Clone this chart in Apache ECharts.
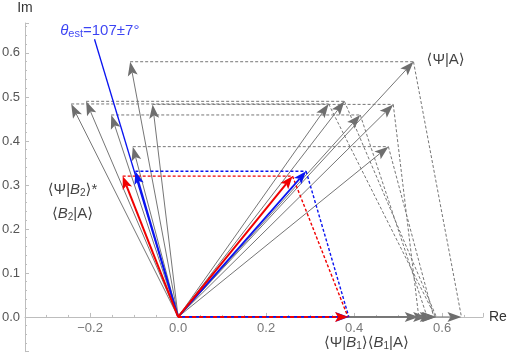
<!DOCTYPE html>
<html>
<head>
<meta charset="utf-8">
<script src="https://cdn.jsdelivr.net/npm/echarts@6/dist/echarts.min.js"></script>
<style>
  html, body { margin: 0; padding: 0; background: #fff; }
  #chart { width: 510px; height: 356px; }
</style>
</head>
<body>
<div id="chart"></div>
<script>
// <Psi|B2>*<B2|A> for each gray run (up-left vectors)
const leftVecs = [
  [-0.243, 0.484], [-0.209, 0.490], [-0.152, 0.459],
  [-0.109, 0.580], [-0.058, 0.483], [-0.103, 0.387]
];
// <Psi|A> for each gray run (up-right vectors)
const sumVecs = [
  [0.342, 0.484], [0.378, 0.490], [0.414, 0.459],
  [0.535, 0.580], [0.489, 0.483], [0.478, 0.387]
];
// <Psi|B1><B1|A> (real) for each gray run
const realParts = [0.585, 0.587, 0.566, 0.644, 0.547, 0.581];

const redLeft = [-0.126, 0.320];
const redSum = [0.260, 0.320];
const redReal = 0.386;

const blueLeft = [-0.097, 0.331];
const blueSum = [0.291, 0.331];
const blueReal = 0.388;

const thetaTip = [-0.190, 0.631];

const xTicks = [-0.2, 0.0, 0.2, 0.4, 0.6];
const yTicks = [0.0, 0.1, 0.2, 0.3, 0.4, 0.5, 0.6];

const GRAY = '#767676';
const RED = '#f00000';
const BLUE = '#0a14f0';
const AXIS = '#bdbdbd';
const FONT = "'Liberation Sans', 'DejaVu Sans', sans-serif";

// segments [x0, y0, x1, y1]
const seg = (a, b) => [a[0], a[1], b[0], b[1]];
const grayArrows = [];
const grayDashed = [];
leftVecs.forEach((l, i) => {
  grayArrows.push(seg([0, 0], l));
  grayArrows.push(seg([0, 0], sumVecs[i]));
  grayArrows.push(seg([0, 0], [realParts[i], 0]));
  grayDashed.push(seg(l, sumVecs[i]));
  grayDashed.push(seg(sumVecs[i], [realParts[i], 0]));
});
const blueArrows = [seg([0, 0], blueLeft), seg([0, 0], blueSum), seg([0, 0], [blueReal, 0])];
const blueDashed = [seg(blueLeft, blueSum), seg(blueSum, [blueReal, 0])];
const redArrows = [seg([0, 0], redLeft), seg([0, 0], redSum)];
const redDashed = [seg(redLeft, redSum), seg(redSum, [redReal, 0])];
const redRealArrow = [seg([0, 0], [redReal, 0])];

function makeRender(color, width, opts) {
  opts = opts || {};
  return function (params, api) {
    const p0 = api.coord([api.value(0), api.value(1)]);
    const p1 = api.coord([api.value(2), api.value(3)]);
    const dx = p1[0] - p0[0], dy = p1[1] - p0[1];
    const len = Math.hypot(dx, dy) || 1;
    const ux = dx / len, uy = dy / len, nx = -uy, ny = ux;
    const children = [];
    const hl = opts.headLen || 0, hw = opts.headHalf || 0, notch = opts.notch || 0;
    let end = p1;
    if (hl) end = [p1[0] - ux * (hl - notch), p1[1] - uy * (hl - notch)];
    children.push({
      type: 'line',
      shape: { x1: p0[0], y1: p0[1], x2: end[0], y2: end[1] },
      style: { stroke: opts.shaft || color, lineWidth: width, lineDash: opts.dash || null, fill: null }
    });
    if (hl) {
      const bx = p1[0] - ux * hl, by = p1[1] - uy * hl;
      children.push({
        type: 'polygon',
        shape: { points: [
          [p1[0], p1[1]],
          [bx + nx * hw, by + ny * hw],
          [p1[0] - ux * (hl - notch), p1[1] - uy * (hl - notch)],
          [bx - nx * hw, by - ny * hw]
        ] },
        style: { fill: color, stroke: null }
      });
    }
    return { type: 'group', children: children };
  };
}

function segSeries(data, color, width, opts, z) {
  return {
    type: 'custom',
    renderItem: makeRender(color, width, opts),
    data: data,
    encode: { x: [0, 2], y: [1, 3] },
    clip: false,
    silent: true,
    z: z
  };
}

const richBase = {
  n: { fontSize: 15, fontFamily: FONT, color: '#111' },
  i: { fontSize: 15, fontFamily: FONT, fontStyle: 'italic', color: '#111' },
  s: { fontSize: 10, fontFamily: FONT, color: '#111', padding: [7, 0, 0, 0] }
};

const labels = [
  {
    value: [-0.178, 0.651],
    label: {
      formatter: '{i|θ}{s|est}{n|=107±7°}',
      rich: {
        n: { fontSize: 15, fontFamily: FONT, color: BLUE },
        i: { fontSize: 15, fontFamily: FONT, fontStyle: 'italic', color: BLUE },
        s: { fontSize: 11, fontFamily: FONT, color: BLUE, padding: [7, 0, 0, 0] }
      }
    }
  },
  { value: [0.608, 0.585], label: { formatter: '{n|⟨Ψ|A⟩}', rich: richBase } },
  {
    value: [-0.240, 0.262],
    label: { formatter: '{n|⟨Ψ|}{i|B}{s|2}{n|⟩*}\n{n|⟨}{i|B}{s|2}{n||A⟩}', rich: richBase, lineHeight: 24 }
  },
  { value: [0.428, -0.058], label: { formatter: '{n|⟨Ψ|}{i|B}{s|1}{n|⟩⟨}{i|B}{s|1}{n||A⟩}', rich: richBase } }
];

// x tick labels drawn at the axis through the x scale
const xTickLabels = xTicks.map(t => ({
  value: [t, 0],
  label: {
    formatter: (t < 0 ? '\u2212' : '') + Math.abs(t).toFixed(1),
    color: '#555', fontSize: 13, fontFamily: FONT
  }
}));

const chart = echarts.init(document.getElementById('chart'));
chart.setOption({
  animation: false,
  backgroundColor: '#fff',
  grid: { left: 25, right: 27, top: 23, bottom: 4.3, outerBoundsMode: 'none' },
  xAxis: {
    type: 'value',
    min: -0.348, max: 0.693,
    minInterval: 0.2, maxInterval: 0.2,
    name: 'Re', nameLocation: 'end', nameGap: 6,
    nameTextStyle: { color: '#333', fontSize: 14, fontFamily: FONT },
    axisLine: { onZero: true, lineStyle: { color: AXIS, width: 1 } },
    axisTick: { show: true, inside: true, length: 4, lineStyle: { color: AXIS } },
    minorTick: { show: true, splitNumber: 4, length: 2, lineStyle: { color: AXIS } },
    splitLine: { show: false },
    axisLabel: { show: false }
  },
  yAxis: {
    type: 'value',
    min: -0.079, max: 0.668,
    minInterval: 0.1, maxInterval: 0.1,
    name: 'Im', nameLocation: 'end', nameGap: 8,
    nameTextStyle: { color: '#333', fontSize: 14, fontFamily: FONT },
    axisLine: { onZero: false, lineStyle: { color: AXIS, width: 1 } },
    axisTick: { show: true, inside: true, length: 4, lineStyle: { color: AXIS } },
    minorTick: { show: true, splitNumber: 5, length: 2, lineStyle: { color: AXIS } },
    splitLine: { show: false },
    axisLabel: {
      showMinLabel: false, showMaxLabel: false, margin: 5,
      color: '#555', fontSize: 13, fontFamily: FONT,
      formatter: v => yTicks.some(t => Math.abs(t - v) < 1e-6) ? v.toFixed(1) : ''
    }
  },
  series: [
    segSeries(grayArrows, '#6e6e6e', 1, { headLen: 14, headHalf: 5, notch: 3, shaft: GRAY }, 2),
    segSeries(grayDashed, GRAY, 1, { dash: [3, 2] }, 3),
    segSeries([seg([0, 0], thetaTip)], BLUE, 1.3, {}, 4),
    segSeries(blueDashed, BLUE, 1.4, { dash: [3, 2] }, 5),
    segSeries(redDashed, RED, 1.4, { dash: [3, 2] }, 5),
    segSeries(blueArrows, BLUE, 1.8, { headLen: 13, headHalf: 4.8, notch: 3 }, 6),
    segSeries(redArrows, RED, 2, { headLen: 13, headHalf: 5, notch: 3 }, 7),
    segSeries(redRealArrow, RED, 2, { headLen: 13, headHalf: 5, notch: 3, dash: [4, 3] }, 8),
    {
      type: 'scatter',
      symbolSize: 0,
      silent: true,
      z: 10,
      label: { show: true, position: 'inside' },
      labelLayout: { hideOverlap: false },
      data: labels
    },
    {
      type: 'scatter',
      symbolSize: 0,
      silent: true,
      z: 11,
      label: { show: true, position: 'bottom', distance: 5 },
      labelLayout: { hideOverlap: false },
      data: xTickLabels
    }
  ]
});
</script>
</body>
</html>
